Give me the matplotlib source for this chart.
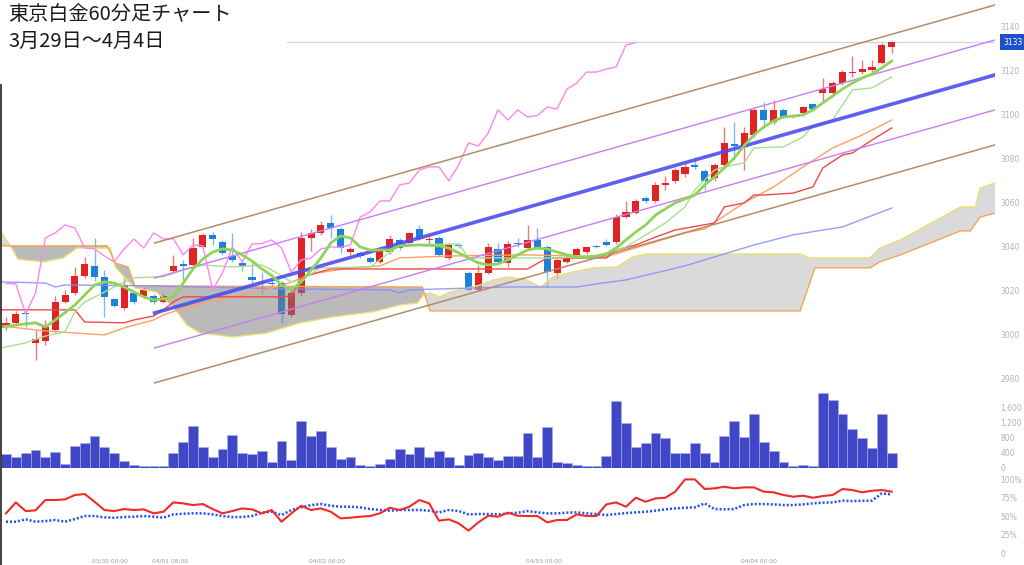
import numpy as np
import matplotlib
matplotlib.use("Agg")
import matplotlib.pyplot as plt
import matplotlib.transforms as mtransforms
from matplotlib.lines import Line2D

plt.rcParams['font.family'] = ['Noto Sans CJK JP', 'DejaVu Sans']

title_line1 = "東京白金60分足チャート"
title_line2 = "3月29日～4月4日"

# ---------------- candles (hourly) ----------------
opens = [3003.6, 3005.5, 3009.8, 2996.4, 2997.3, 3002.3, 3015.0, 3019.1, 3026.8, 3031.4,
         3026.4, 3016.4, 3012.3, 3019.1, 3017.7, 3017.7, 3015.0, 3029.1, 3032.3, 3031.8,
         3040.0, 3045.5, 3042.3, 3035.9, 3032.7, 3026.4, 3023.8, 3023.6, 3023.6, 3009.1,
         3019.1, 3044.1, 3046.4, 3051.0, 3048.2, 3037.7, 3037.3, 3035.0, 3033.2, 3037.7,
         3043.2, 3041.8, 3048.2, 3043.2, 3044.1, 3035.0, 3041.0, 3028.2, 3020.5, 3028.2,
         3039.1, 3032.7, 3042.0, 3039.5, 3043.2, 3040.0, 3028.2, 3033.2, 3036.4, 3037.7,
         3040.2, 3042.3, 3042.3, 3053.6, 3055.5, 3062.3, 3060.9, 3068.2, 3070.0, 3073.2,
         3077.3, 3074.5, 3071.4, 3077.3, 3086.8, 3085.5, 3090.9, 3102.3, 3096.8, 3102.3,
         3099.3, 3100.9, 3105.0, 3110.0, 3110.0, 3114.5, 3119.1, 3119.5, 3120.5, 3123.6,
         3130.9]
highs = [3008.2, 3011.0, 3010.0, 3002.3, 3006.8, 3017.7, 3020.5, 3031.0, 3035.5, 3044.1,
         3029.5, 3017.0, 3025.9, 3020.0, 3022.0, 3018.5, 3018.5, 3036.4, 3034.1, 3044.1,
         3046.5, 3047.0, 3043.0, 3046.4, 3033.5, 3032.7, 3028.6, 3025.0, 3024.5, 3020.0,
         3047.0, 3048.0, 3052.0, 3054.5, 3049.0, 3040.0, 3038.0, 3035.5, 3040.0, 3045.5,
         3044.0, 3047.0, 3050.0, 3045.5, 3045.0, 3042.0, 3042.0, 3029.0, 3032.0, 3041.8,
         3041.8, 3042.5, 3044.1, 3050.0, 3048.6, 3041.0, 3035.0, 3037.0, 3040.0, 3040.5,
         3041.0, 3043.5, 3055.0, 3060.9, 3062.0, 3063.0, 3069.5, 3072.3, 3076.0, 3078.0,
         3080.9, 3075.5, 3078.0, 3094.5, 3096.8, 3094.5, 3103.0, 3106.0, 3107.0, 3103.0,
         3100.5, 3104.0, 3105.5, 3117.0, 3115.5, 3120.5, 3126.8, 3125.0, 3125.0, 3132.5,
         3133.5]
lows = [3002.3, 3004.5, 3003.6, 2988.6, 2995.5, 3001.4, 3014.5, 3018.0, 3026.0, 3024.3,
        3008.2, 3012.5, 3011.5, 3014.0, 3017.0, 3014.0, 3014.5, 3028.0, 3025.0, 3031.0,
        3039.5, 3041.0, 3036.5, 3033.2, 3029.0, 3023.6, 3019.1, 3022.0, 3005.5, 3008.0,
        3017.7, 3038.0, 3045.5, 3044.1, 3037.3, 3036.4, 3035.0, 3032.5, 3032.7, 3037.0,
        3038.6, 3041.0, 3043.0, 3041.0, 3035.5, 3034.0, 3039.5, 3020.0, 3020.0, 3027.5,
        3032.5, 3031.0, 3040.0, 3039.0, 3039.0, 3022.0, 3026.0, 3032.7, 3035.5, 3037.0,
        3039.5, 3040.5, 3041.5, 3053.0, 3055.0, 3060.0, 3060.0, 3065.9, 3069.0, 3072.0,
        3075.5, 3065.9, 3070.0, 3076.0, 3079.5, 3075.0, 3090.0, 3094.0, 3096.0, 3098.5,
        3098.5, 3099.5, 3102.0, 3105.5, 3109.0, 3113.5, 3117.3, 3118.6, 3119.5, 3123.0,
        3128.2]
closes = [3005.5, 3009.5, 3009.3, 2998.2, 3003.6, 3015.0, 3018.2, 3026.8, 3032.3, 3026.4,
          3017.3, 3013.2, 3022.7, 3015.0, 3020.5, 3015.0, 3017.7, 3031.4, 3031.4, 3039.5,
          3045.5, 3043.6, 3037.3, 3034.1, 3031.4, 3025.0, 3023.4, 3023.2, 3009.5, 3019.1,
          3044.1, 3046.4, 3050.0, 3048.6, 3039.5, 3039.1, 3035.9, 3033.2, 3039.1, 3043.6,
          3039.5, 3046.4, 3043.6, 3043.8, 3036.4, 3040.9, 3040.5, 3020.5, 3028.2, 3040.0,
          3033.2, 3041.4, 3041.5, 3043.2, 3039.5, 3028.6, 3034.1, 3035.0, 3039.1, 3040.0,
          3039.8, 3040.9, 3053.6, 3055.9, 3060.9, 3060.9, 3068.2, 3069.1, 3075.0, 3076.4,
          3076.4, 3070.0, 3077.3, 3087.3, 3085.9, 3091.8, 3102.3, 3097.7, 3102.3, 3099.1,
          3099.7, 3103.6, 3102.7, 3111.8, 3114.5, 3119.5, 3119.5, 3120.9, 3121.8, 3131.8,
          3133.0]

volumes = [364, 293, 400, 471, 293, 409, 98, 578, 649, 827,
           560, 400, 178, 71, 36, 36, 36, 382, 693, 1120,
           560, 293, 498, 871, 382, 364, 427, 142, 720, 204,
           1227, 827, 978, 560, 231, 276, 71, 44, 89, 231,
           498, 356, 542, 267, 427, 293, 71, 338, 382, 293,
           204, 320, 320, 916, 293, 1093, 160, 133, 71, 53,
           27, 311, 1778, 1200, 560, 649, 933, 782, 382, 400,
           649, 400, 160, 844, 1253, 809, 1440, 667, 427, 160,
           27, 71, 53, 1982, 1805, 1422, 1031, 782, 516, 1422, 400]

osc_red = [53.6, 68.4, 56.7, 57.6, 71.6, 71.6, 72.5, 78.4, 79.7, 69.3,
           58.1, 56.7, 59.4, 58.1, 59.0, 53.6, 55.8, 68.4, 67.1, 64.8,
           66.2, 59.4, 53.6, 56.7, 60.3, 59.0, 53.6, 58.1, 42.3, 53.6,
           63.9, 58.1, 60.3, 55.8, 46.8, 47.7, 49.1, 50.0, 53.6, 61.2,
           58.1, 62.6, 71.6, 67.1, 43.7, 45.5, 40.1, 30.2, 41.4, 50.4,
           49.1, 54.5, 50.4, 50.0, 50.0, 41.4, 44.6, 44.6, 52.2, 50.0,
           50.0, 65.7, 68.4, 62.6, 74.7, 69.3, 73.8, 74.7, 82.9, 99.5,
           99.5, 86.5, 87.4, 89.6, 87.4, 88.7, 88.7, 82.9, 82.0, 78.4,
           76.1, 77.5, 74.7, 77.0, 78.4, 86.5, 85.1, 82.0, 84.2, 85.1, 82.9]
osc_blue = [42.3, 42.3, 45.5, 42.3, 43.2, 44.6, 42.3, 45.9, 50.0, 50.0,
            48.2, 47.7, 48.6, 49.1, 50.0, 49.1, 47.7, 52.2, 53.1, 53.6,
            53.6, 52.2, 50.0, 48.6, 48.6, 50.0, 54.5, 55.8, 51.3, 58.1,
            61.7, 64.8, 66.2, 63.9, 62.6, 62.6, 61.7, 59.4, 58.1, 57.2,
            58.1, 58.1, 58.1, 57.2, 54.9, 58.1, 56.7, 52.2, 52.7, 52.7,
            52.2, 53.6, 54.5, 56.7, 54.9, 53.6, 53.6, 54.5, 54.9, 53.6,
            52.7, 51.3, 52.7, 54.0, 54.9, 55.8, 57.2, 59.0, 60.3, 61.2,
            61.7, 67.1, 59.4, 59.0, 59.4, 64.8, 66.2, 66.2, 65.7, 64.8,
            64.8, 65.7, 67.1, 68.0, 68.4, 70.7, 70.2, 70.7, 70.7, 80.6, 79.2]

# ---------------- overlay lines (bar index, price) ----------------
kijun_x = [-0.5, 7, 8, 12, 13, 14, 15, 16, 17, 18, 28, 29, 30, 32, 33, 53, 55, 61, 62, 64,
           66, 68, 72, 73, 75, 76, 77, 80, 82, 83, 85, 86, 88, 90]
kijun_y = [3011.4, 3011.4, 3005.9, 3005.5, 3006.8, 3007.7, 3008.6, 3011.4, 3015.0, 3017.3,
           3017.3, 3017.7, 3026.0, 3028.8, 3030.0, 3030.0, 3035.0, 3035.0, 3038.6, 3040.9,
           3044.5, 3047.7, 3050.9, 3058.2, 3060.0, 3063.6, 3063.6, 3064.5, 3067.3, 3075.9,
           3081.8, 3082.7, 3088.6, 3094.1]

tenkan_x = [-0.5, 2, 4, 6, 7, 8, 10, 12, 13, 15, 16, 18, 20, 23, 26, 27, 29, 30, 32, 37,
            40, 46, 47, 56, 60, 62, 63, 67, 69, 70, 72, 73, 75, 76, 79, 81, 82, 84, 86, 88, 90]
tenkan_y = [2994.1, 2996.4, 2999.5, 3001.4, 3010.5, 3015.0, 3019.5, 3024.1, 3025.9, 3026.4,
            3026.4, 3029.5, 3031.8, 3030.9, 3031.8, 3029.5, 3024.1, 3025.0, 3030.5, 3030.9,
            3040.9, 3041.4, 3035.0, 3035.0, 3035.9, 3038.6, 3040.0, 3050.9, 3058.2, 3065.9,
            3075.0, 3076.4, 3078.2, 3085.0, 3085.5, 3090.0, 3095.4, 3097.7, 3111.4, 3112.3,
            3117.3]

ma_short_x = [-0.5, 1, 3, 4, 5, 7, 8, 9, 10, 11, 12, 14, 15, 16, 17, 18, 19, 20, 21, 22,
              23, 24, 25, 26, 27, 28, 29, 30, 31, 32, 33, 34, 35, 36, 37, 39, 40, 42, 44, 45,
              46, 47, 48, 49, 50, 51, 52, 53, 54, 55, 56, 57, 58, 59, 60, 61, 62, 63, 64, 65,
              66, 67, 68, 69, 70, 71, 72, 73, 74, 75, 76, 77, 78, 79, 80, 81, 82, 83, 84, 85,
              86, 87, 88, 89, 90]
ma_short_y = [3003.6, 3004.5, 3005.5, 3003.6, 3006.8, 3013.6, 3018.2, 3022.7, 3024.1, 3023.6,
              3021.8, 3017.3, 3015.9, 3016.4, 3017.3, 3023.5, 3030.0, 3034.5, 3037.7, 3039.1,
              3038.6, 3036.4, 3033.6, 3030.0, 3027.0, 3022.7, 3020.5, 3024.1, 3029.5, 3035.0,
              3041.8, 3045.0, 3044.1, 3040.0, 3038.6, 3038.6, 3040.5, 3040.9, 3040.5, 3039.5,
              3037.3, 3035.0, 3032.7, 3031.8, 3032.3, 3034.1, 3036.4, 3038.6, 3039.5, 3039.1,
              3037.7, 3036.4, 3035.5, 3035.5, 3035.9, 3036.8, 3039.5, 3043.2, 3046.8, 3050.0,
              3054.5, 3057.3, 3060.0, 3061.8, 3063.6, 3068.2, 3071.8, 3075.9, 3080.5, 3085.9,
              3090.9, 3094.5, 3097.3, 3099.1, 3099.5, 3100.0, 3102.3, 3105.5, 3108.6, 3111.8,
              3114.5, 3116.8, 3118.6, 3121.4, 3124.5]

ma_mid_x = [-0.5, 4, 10, 12, 15, 16, 19, 23, 28, 31, 35, 38, 40, 45, 53, 61, 69, 71, 75, 78,
            81, 84, 87, 90]
ma_mid_y = [3004.1, 3001.8, 3000.0, 3003.2, 3006.8, 3009.1, 3013.6, 3017.3, 3022.3, 3027.7,
            3030.5, 3031.4, 3035.0, 3035.9, 3036.4, 3035.5, 3046.4, 3048.2, 3060.0, 3067.3,
            3076.4, 3085.0, 3090.9, 3097.7]

ma_long_x = [-0.5, 4, 5, 6, 15, 29, 39, 40, 41, 51, 58, 60, 63, 69, 76, 80, 85, 90]
ma_long_y = [3024.1, 3023.6, 3021.8, 3022.7, 3022.3, 3020.9, 3020.5, 3019.1, 3020.5, 3021.8,
             3021.8, 3023.2, 3025.0, 3031.4, 3040.9, 3045.5, 3049.1, 3057.7]

spanA_x = [-0.5, 0.7, 1.2, 3.8, 5.8, 7.2, 10.6, 11.1, 12.6, 13.1, 15.3, 17.0, 18.4, 19.7, 23.1,
           26.5, 29.9, 33.2, 37.3, 40.0, 41.8, 42.5, 43.1, 44.1, 45.1, 48.2, 49.5, 50.9, 52.9,
           54.3, 55.6, 57.6, 59.7, 62.1, 63.7, 65.1, 80.7, 81.7, 87.8, 88.8, 90.9, 97.0, 98.5,
           99.0, 100.5]
spanA_y = [3046.8, 3038.6, 3034.5, 3033.2, 3035.0, 3039.5, 3039.5, 3030.9, 3023.6, 3021.4,
           3019.5, 3012.7, 3004.5, 3000.9, 2999.1, 3000.9, 3005.5, 3008.2, 3010.5, 3013.6,
           3014.5, 3018.6, 3019.1, 3017.3, 3019.5, 3022.7, 3025.0, 3026.4, 3025.0, 3021.8,
           3026.4, 3028.6, 3030.5, 3030.9, 3035.5, 3036.8, 3036.8, 3035.0, 3035.0, 3039.5,
           3043.2, 3058.2, 3058.2, 3066.8, 3069.1]
spanB_x = [-0.5, 10.3, 11.1, 12.4, 13.1, 42.3, 43.1, 80.7, 82.2, 87.8, 88.8, 90.9, 97.0, 98.0,
           99.0, 100.5]
spanB_y = [3040.5, 3040.5, 3032.7, 3030.9, 3022.3, 3021.8, 3010.9, 3010.9, 3030.5, 3030.5,
           3033.2, 3036.4, 3047.3, 3047.3, 3053.6, 3055.4]

chikou_shift = 26

reg_x = [15.1, 100.5]
reg_mid = [3010.0, 3118.2]
reg_sigma = 15.9

last_price = 3133
last_line_start = 28.6

price_ticks = [2980, 3000, 3020, 3040, 3060, 3080, 3100, 3120, 3140]
vol_ticks = [0, 400, 800, 1200, 1600]
vol_tick_labels = ["0", "400", "800", "1,200", "1,600"]
pct_ticks = [0, 25, 50, 75, 100]
pct_tick_labels = ["0", "25%", "50%", "75%", "100%"]
time_tick_pos = [10.6, 16.7, 32.6, 54.7, 76.5]
time_tick_labels = ["03/30 00:00", "04/01 08:00", "04/02 00:00", "04/03 00:00", "04/04 00:00"]

# ---------------- figure ----------------
W_PX, H_PX = 1024, 565
fig = plt.figure(figsize=(W_PX / 100, H_PX / 100), dpi=100)


def rect(x0, y0, x1, y1):
    return [x0 / W_PX, 1 - y1 / H_PX, (x1 - x0) / W_PX, (y1 - y0) / H_PX]


ax = fig.add_axes(rect(1, 0, 995, 393))
axv = fig.add_axes(rect(1, 393, 995, 467.5))
axo = fig.add_axes(rect(1, 470, 995, 556))

XLIM = (-0.508, 100.5)
LABEL_COLOR = '#b2b2b2'
for a in (ax, axv, axo):
    a.set_xlim(*XLIM)
    a.patch.set_alpha(0)
    for s in a.spines.values():
        s.set_visible(False)
    a.yaxis.tick_right()
    a.tick_params(axis='y', length=0, pad=4, labelsize=5.5, labelcolor=LABEL_COLOR)
    a.tick_params(axis='x', length=0)
    for lab in a.get_yticklabels():
        lab.set_family('DejaVu Sans')

ax.set_ylim(2973.6, 3152.27)
axv.set_ylim(0, 1987)
axo.set_ylim(-4.05, 112.2)

idx = np.arange(len(closes))
o = np.array(opens); h = np.array(highs); l = np.array(lows); c = np.array(closes)
up = c >= o
RED = '#e02424'
BLUE = '#1f80dc'
body_col = np.where(up, RED, BLUE)
wick_col = np.where(up, '#f07a7a', '#7db8ef')

# candles
ax.vlines(idx, l, h, colors=wick_col, lw=1.0, zorder=2)
body_lo = np.minimum(o, c)
body_h = np.maximum(np.abs(c - o), 0.5)
ax.bar(idx, body_h, bottom=body_lo, width=0.72, color=body_col, linewidth=0, zorder=2.1)

# ichimoku cloud
grid = np.union1d(spanA_x, spanB_x)
a_line = np.interp(grid, spanA_x, spanA_y)
b_line = np.interp(grid, spanB_x, spanB_y)
ax.fill_between(grid, a_line, b_line, where=b_line >= a_line, interpolate=True,
                color='#777777', alpha=0.5, linewidth=0, zorder=3)
ax.fill_between(grid, a_line, b_line, where=a_line >= b_line, interpolate=True,
                color='#b6b6b6', alpha=0.5, linewidth=0, zorder=3)
ax.plot(spanA_x, spanA_y, color='#eae070', lw=1.0, zorder=3.5)
ax.plot(spanB_x, spanB_y, color='#f3a55a', lw=1.0, zorder=3.5)

# moving averages / ichimoku lines
ax.plot(ma_long_x, ma_long_y, color='#8a8aff', lw=1.0, alpha=0.85, zorder=4)
ax.plot(ma_mid_x, ma_mid_y, color='#ffa060', lw=1.0, zorder=4)
ax.plot(kijun_x, kijun_y, color='#f04848', lw=1.0, zorder=4)
ax.plot(tenkan_x, tenkan_y, color='#a8e08c', lw=1.0, zorder=4)
ax.plot(idx[:-chikou_shift], c[chikou_shift:], color='#ff85f0', lw=1.0, zorder=4)

# regression channel
rx = np.array(reg_x); rm = np.array(reg_mid)
for k, col, lw in [(2, '#b88a66', 1.1), (1, '#c97cf5', 1.0), (-1, '#c97cf5', 1.0), (-2, '#b88a66', 1.1)]:
    ax.plot(rx, rm + k * reg_sigma, color=col, lw=lw, zorder=4.5)
ax.plot(rx, rm, color='#4d4df0', lw=2.6, alpha=0.9, zorder=4.6)

ax.plot(ma_short_x, ma_short_y, color='#8fd45a', lw=2.0, zorder=4.8)

# last price line + tag
ax.plot([last_line_start, XLIM[1]], [last_price, last_price], color='#d4d4d4', lw=0.8, zorder=1)
trans = mtransforms.blended_transform_factory(ax.transAxes, ax.transData)
ax.text(1.008, last_price, str(last_price), transform=trans, ha='left', va='center',
        fontsize=5.5, color='white', family='DejaVu Sans', zorder=10, clip_on=False,
        bbox=dict(boxstyle='square,pad=0.45', fc='#1d52cc', ec='none'))

ax.set_yticks(price_ticks)
ax.set_yticklabels([str(t) for t in price_ticks], family='DejaVu Sans')
ax.set_xticks([])

# volume
axv.bar(idx, volumes, width=1.0, color='#3f47c6', edgecolor='#a9aeea', linewidth=0.4, zorder=2)
axv.set_yticks(vol_ticks)
axv.set_yticklabels(vol_tick_labels, family='DejaVu Sans')
axv.set_xticks([])

# oscillator
axo.plot(idx, osc_red, color='#ef2a2a', lw=1.5, zorder=3)
axo.plot(idx, osc_blue, color='#1f50ee', lw=1.8, linestyle=(0, (0.8, 0.8)), zorder=2)
axo.set_yticks(pct_ticks)
axo.set_yticklabels(pct_tick_labels, family='DejaVu Sans')
axo.set_xticks(time_tick_pos)
axo.set_xticklabels(time_tick_labels, family='DejaVu Sans')
axo.tick_params(axis='x', length=0, pad=1.5, labelsize=4.3, labelcolor='#9a9a9a')

# left edge line
fig.add_artist(Line2D([0.8 / W_PX, 0.8 / W_PX], [0, 1 - 85 / H_PX], color='#222222', lw=1.2))

# titles
fig.text(8 / W_PX, 1 - 15 / H_PX, title_line1, fontsize=14.5, ha='left', va='center', color='#1a1a1a')
fig.text(8 / W_PX, 1 - 41 / H_PX, title_line2, fontsize=14.5, ha='left', va='center', color='#1a1a1a')

fig.savefig('out.png', dpi=100)
